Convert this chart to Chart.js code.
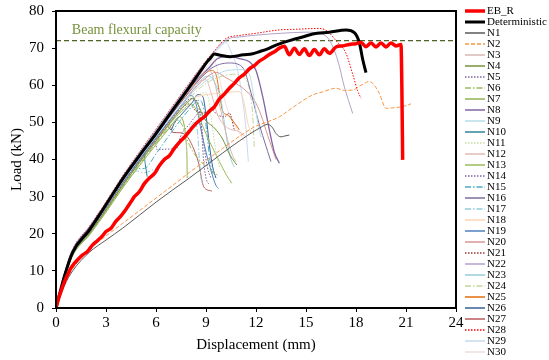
<!DOCTYPE html>
<html>
<head>
<meta charset="utf-8">
<script src="https://cdn.jsdelivr.net/npm/chart.js@4.4.0/dist/chart.umd.min.js"></script>
<style>
  html, body { margin: 0; padding: 0; background: #fff; }
</style>
</head>
<body>
<canvas id="myChart" width="549" height="360"></canvas>
<script>
// ---- data: [displacement (mm), load (kN)] ----
const EB_R = [[0,0],[0.15,2.5],[0.3,4.5],[0.5,7],[0.7,9],[0.9,10.8],[1.1,12],[1.3,13],[1.6,14.3],[1.9,15.3],[2.2,17],[2.5,18.2],[2.8,19.5],[3,20.6],[3.3,21.5],[3.6,23.4],[3.9,24.8],[4.2,26.6],[4.5,28.6],[4.7,30],[5,31.3],[5.3,33.5],[5.6,35],[5.9,36.2],[6.2,38.3],[6.5,40],[6.8,41],[7.1,43],[7.4,44.6],[7.7,46],[8,47.6],[8.3,49.2],[8.6,50.5],[8.9,51.5],[9.2,53],[9.5,54.2],[9.8,56.3],[10.1,57.6],[10.4,59.2],[10.7,60.5],[11,62],[11.3,63],[11.6,64.4],[11.9,65.3],[12.2,66.5],[12.5,67.3],[12.8,68.3],[13.1,69],[13.4,70],[13.7,70.5],[14,68.2],[14.3,70],[14.6,68.3],[14.9,69.8],[15.2,68],[15.5,69.6],[15.8,68.2],[16.1,69.8],[16.4,68.6],[16.8,70.3],[17.2,70.6],[17.6,71],[18,71.2],[18.3,71.5],[18.6,70.4],[18.9,71.4],[19.2,70.3],[19.5,71.4],[19.8,70.3],[20.1,71.4],[20.4,70.6],[20.7,71],[20.75,60],[20.8,39.9]];
const Deterministic = [[0,0],[0.5,8.5],[1,15],[2,21],[3,27.8],[4,34.8],[5,41],[6,47],[7,53.3],[8,59.5],[8.7,64],[9.1,66.5],[9.25,67.2],[9.5,68.4],[9.85,68.1],[10.45,67.7],[11.24,68.2],[11.8,68.5],[12.24,69.1],[12.7,69.8],[13.2,70.8],[13.7,71.6],[14.2,72.3],[14.8,73],[15.4,73.8],[16.4,74.3],[17.4,74.9],[17.9,74.2],[18.2,71.5],[18.4,67],[18.6,63.4]];
const N1 = [[0,0],[0.5,6],[1,10],[2,15],[3,18.3],[4,21.5],[5,25],[6,28.5],[7,31.8],[8,35],[9.45,39.9],[10.5,43.4],[11.5,46.5],[12.3,48.7],[12.7,49.5],[13,48.5],[13.2,47],[13.5,46.1],[13.7,46.3],[14,46.6]];
const N2 = [[0,0],[0.5,6.5],[1,10.6],[2,15.8],[3,19.4],[4,22.8],[5,26.2],[6,29.6],[7,33],[8,36.5],[9.06,39.9],[10,43],[11,46.2],[12,49],[12.6,50],[13.4,51.5],[14.2,54],[15.4,57.4],[16,58.2],[16.8,59.2],[17.3,58.6],[17.8,58.7],[18.3,60],[18.8,61],[19.1,60],[19.4,57.8],[19.8,53.8],[20.2,53.9],[20.6,54.1],[21,54.5],[21.3,55]];
const N3 = [[0,0],[0.5,8.6],[1,15.2],[2,21.2],[3,27.8],[4,34.6],[5,40.9],[6,46.9],[7,52.9],[8,58.8],[8.8,62.8],[9.2,64],[9.5,61],[9.8,55],[10.2,47],[10.6,41],[10.8,39.5]];
const N4 = [[0,0],[0.5,8],[1,14.4],[2,20],[3,26.4],[4,33],[5,39.2],[6,45],[7,50.8],[7.8,55],[8.2,56.5],[8.5,55],[8.9,51],[9.5,48.5],[10,45.5],[10.4,41.5],[10.85,38.5]];
const N5 = [[0,0],[0.5,8.2],[1,14.6],[2,20.3],[3,26.8],[4,33.4],[5,39.6],[6,45.5],[7,51.3],[7.6,54.5],[8.1,56.4],[8.5,55.5],[8.7,50],[8.9,43],[9.1,37.5],[9.3,35]];
const N6 = [[0,0],[0.5,8],[1,14.2],[2,19.8],[3,26],[4,32.6],[5,38.6],[6,44.4],[6.8,48.8],[7.3,50.6],[7.6,49],[7.9,45],[8.3,41.5],[8.8,39],[9.3,37],[9.8,35.5]];
const N7 = [[0,0],[0.5,8],[1,14.1],[2,19.6],[3,25.8],[4,32.3],[5,38.3],[6,44],[6.9,49],[7.4,51.5],[7.7,49],[7.82,44],[7.86,40],[7.87,35]];
const N8 = [[0,0],[0.5,8.9],[1,15.6],[2,21.6],[3,28.1],[4,35],[5,41.3],[6,47.3],[7,53.2],[8,59],[8.5,61.6],[9.2,64.8],[9.7,67.2],[10.4,67.8],[11,67.2],[11.6,66.3],[12,64],[12.4,57],[12.8,48],[13.1,42],[13.4,39]];
const N9 = [[0,0],[0.5,8.5],[1,15],[2,20.9],[3,27.3],[4,34.1],[5,40.3],[6,46.2],[7,51.9],[8,57.2],[8.8,60.5],[9.6,62.8],[10.3,64],[11.2,64.2],[11.6,63],[11.9,56],[12.1,50],[12.3,46]];
const N10 = [[0,0],[0.5,8.7],[1,15.2],[2,21.2],[3,27.7],[4,34.6],[4.6,38.5],[5,41],[5.24,42.6],[5.35,39],[5.47,35.4]];
const N11 = [[0,0],[0.5,8.1],[1,14.3],[2,20],[3,26.2],[4,32.8],[5,38.9],[6,44.7],[7,50.4],[8,55.5],[8.6,57.5],[9,58],[9.2,55],[9.4,48],[9.6,42],[9.8,38]];
const N12 = [[0,0],[0.5,8.7],[1,15.3],[2,21.3],[3,27.9],[4,34.8],[5,41.1],[6,47.1],[7,53],[8,58.6],[8.6,61],[9,61.5],[9.3,58],[9.7,52],[10.3,48.5],[11,47.5],[11.4,46]];
const N13 = [[0,0],[0.5,8.1],[1,14.4],[2,20.1],[3,26.3],[4,32.9],[5,39],[6,44.8],[7,50.5],[7.7,53.6],[8.1,55],[8.4,53.5],[8.8,49],[9.3,44],[9.8,39.5],[10.2,36],[10.55,33.6]];
const N14 = [[0,0],[0.5,8.2],[1,14.5],[2,20.2],[3,26.5],[4,33.1],[5,39.2],[5.6,42.5],[5.97,44.4],[6.07,42.6],[6.6,42.8],[7.26,43],[7.46,46.1],[8,49.5],[8.4,51.8],[8.66,53],[8.75,47],[8.85,40],[9,35],[9.2,33.2]];
const N15 = [[0,0],[0.5,8.6],[1,15],[2,21],[3,27.5],[4,34.4],[4.3,36.5],[4.7,38],[5.1,37.5],[5.4,37.8],[6,41.5],[7,47.8],[8,53.5],[8.6,56],[8.9,53],[9.1,45],[9.3,38],[9.5,35.5]];
const N16 = [[0,0],[0.5,8.6],[1,15.1],[2,21.1],[3,27.6],[4,34.4],[5,40.6],[6,46.6],[7,52.5],[8,58.2],[8.8,62.5],[9.3,64.5],[9.8,65.6],[10.4,66],[11,65.5],[11.3,64],[11.7,58],[12.1,51],[12.5,45],[12.9,39.4]];
const N17 = [[0,0],[0.5,8.4],[1,14.8],[2,20.6],[3,27],[3.6,31.5],[4.08,35.5],[4.5,36.8],[4.88,36.9],[5.27,36.4],[5.7,37],[6.27,38.5],[7,42],[7.8,47],[8.3,50],[8.5,47],[8.6,40],[8.7,35],[8.8,33.5]];
const N18 = [[0,0],[0.5,8.2],[1,14.5],[2,20.2],[3,26.6],[4,33.2],[5,39.3],[6,45.1],[7,50.9],[8,55.8],[9,57.5],[10,57.8],[10.6,58.2],[11,58.3],[11.3,55],[11.5,50],[11.7,47]];
const N19 = [[0,0],[0.5,8.4],[1,14.8],[2,20.6],[3,27],[4,33.7],[5,39.9],[6,45.8],[7,51.6],[7.7,55.5],[8.1,57.3],[8.4,55],[8.7,48],[9,42],[9.3,37],[9.6,33],[9.75,32.2]];
const N20 = [[0,0],[0.5,8.3],[1,14.7],[2,20.5],[3,26.9],[4,33.5],[5,39.7],[6,45.6],[7,51.4],[8,57.5],[9,62],[9.6,63.5],[10.2,62],[10.8,60.5],[11.4,58.5],[11.9,56],[12.3,52],[12.7,46.5],[13.2,40]];
const N21 = [[0,0],[0.5,8.3],[1,14.6],[2,20.4],[3,26.8],[4,33.4],[5,39.5],[6,45.3],[7,51],[7.6,54],[8,55],[8.4,53],[8.9,52.5],[9.3,53.5],[9.7,52],[10.1,51.5],[10.4,52.5],[10.7,48]];
const N22 = [[0,0],[0.5,9],[1,15.6],[2,21.8],[3,28.4],[4,35.4],[5,41.8],[6,48],[7,54.2],[8,60.4],[9,66.4],[10.3,72.4],[11,73],[12,73.5],[13.5,74],[15,74.3],[15.8,74],[16.4,72.2],[16.9,66.8],[17.3,59.6],[17.8,52.4]];
const N23 = [[0,0],[0.5,8.5],[1,14.9],[2,20.8],[3,27.2],[4,33.9],[5,40.1],[6,46],[7,51.8],[8,57.5],[8.8,61.8],[9.2,62.5],[9.6,60],[9.9,56],[10.1,50],[10.3,44],[10.5,40],[10.7,38]];
const N24 = [[0,0],[0.5,8.3],[1,14.6],[2,20.3],[3,26.7],[4,33.3],[5,39.4],[6,45.2],[7,51],[8,56.5],[9,60.5],[10,62.5],[10.8,63],[11.3,62],[11.6,59],[11.8,52],[11.9,43]];
const N25 = [[0,0],[0.5,8.6],[1,15.1],[2,21.1],[3,27.6],[4,34.5],[5,40.8],[6,46.8],[7,52.7],[8,58.5],[8.8,62.5],[9.3,64],[9.6,63],[9.8,58],[10,53],[10.3,52],[10.6,50.5],[11,48]];
const N26 = [[0,0],[0.5,8.5],[1,15],[2,20.9],[3,27.3],[4,34],[5,40.3],[6,46.3],[6.6,49.5],[6.9,48],[7.1,49.8],[7.6,52.5],[8.2,55.5],[8.5,57.5],[8.8,57],[9,52],[9.2,44],[9.4,38],[9.6,35]];
const N27 = [[0,0],[0.5,8.3],[1,14.7],[2,20.5],[3,26.9],[4,33.5],[5,39.6],[6,45.5],[6.5,48.5],[6.7,50],[6.9,48.6],[7,47.3],[7.5,47.2],[7.9,46],[8.2,43.5],[8.56,39],[8.86,32.7],[9.35,31.5]];
const N28 = [[0,0],[0.5,9.2],[1,15.8],[2,22],[3,28.6],[4,35.6],[5,42],[6,48.2],[7,54.4],[8,60.6],[9,66.6],[9.6,69.8],[10.2,72.6],[11,73.4],[12,74],[13.4,74.9],[14.5,75.1],[15.8,75.3],[16.3,74.5],[16.8,72],[17.4,68.6],[17.8,63],[18.1,58.5],[18.3,56.5]];
const N29 = [[0,0],[0.5,9],[1,15.6],[2,21.7],[3,28.3],[4,35.3],[5,41.6],[6,47.7],[7,53.8],[8,59.9],[9,65.7],[9.8,70],[10.2,71.5],[10.5,69],[10.9,64],[11.2,56],[11.4,48],[11.54,39.4]];
const N30 = [[0,0],[0.5,8.8],[1,15.4],[2,21.5],[3,28.1],[4,35],[5,41.3],[6,47.3],[7,53.3],[8,59.2],[8.8,63.5],[9.25,66],[9.45,67.2],[9.7,64],[10,58],[10.4,52],[10.9,48],[11.3,45]];

const beamCapacity = 72;   // kN
const xTicks = { min: 0, max: 24, step: 3 };
const yTicks = { min: 0, max: 80, step: 10 };

const seriesNames = ['EB_R', 'Deterministic', 'N1', 'N2', 'N3', 'N4', 'N5', 'N6', 'N7', 'N8', 'N9', 'N10',
  'N11', 'N12', 'N13', 'N14', 'N15', 'N16', 'N17', 'N18', 'N19', 'N20',
  'N21', 'N22', 'N23', 'N24', 'N25', 'N26', 'N27', 'N28', 'N29', 'N30'];
const seriesData = [EB_R, Deterministic, N1, N2, N3, N4, N5, N6, N7, N8, N9, N10,
  N11, N12, N13, N14, N15, N16, N17, N18, N19, N20,
  N21, N22, N23, N24, N25, N26, N27, N28, N29, N30];

// styles (colour, width, dash) in the same order
const DOT = [1.5, 1.5], DASH = [4, 2], DASHDOT = [6, 2, 1.5, 2];
const seriesStyles = [
  ['#ff0000', 3.5, []], ['#000000', 3, []],
  ['#595959', 1, []], ['#f79646', 1, DASH], ['#d8b6b4', 1, []], ['#77933c', 1, []],
  ['#8064a2', 1, DOT], ['#9bbb59', 1, DASHDOT], ['#92b050', 1, []], ['#8064a2', 1.3, []],
  ['#b7dee8', 1, []], ['#31859c', 1, []], ['#c9dba5', 1, DOT], ['#e6b9b8', 1, []],
  ['#9bbb59', 1, []], ['#8064a2', 1, DOT], ['#4bacc6', 1, DASHDOT], ['#7f6c9e', 1, []],
  ['#93cddd', 1, DASHDOT], ['#fcd5b5', 1, []], ['#4f81bd', 1, []], ['#d99694', 1, []],
  ['#953735', 1, DOT], ['#b3a2c7', 1, []], ['#93cddd', 1, []], ['#c3d69b', 1, DASHDOT],
  ['#e46c0a', 1, []], ['#376092', 1, []], ['#b65d5b', 1, []], ['#ff0000', 1, DOT],
  ['#c6d9f1', 1, []], ['#f2dcdb', 1, []]
];

const FONT = '"Liberation Serif", "Times New Roman", serif';

const datasets = seriesNames.map((name, i) => ({
  label: name,
  data: seriesData[i],
  borderColor: seriesStyles[i][0],
  borderWidth: seriesStyles[i][1],
  borderDash: seriesStyles[i][2],
  inLegend: true,
  showLine: true,
  pointRadius: 0,
  cubicInterpolationMode: 'monotone',
  fill: false
}));

// horizontal capacity line (drawn first, under everything)
datasets.push({
  label: 'Beam flexural capacity',
  data: [[xTicks.min, beamCapacity], [xTicks.max, beamCapacity]],
  borderColor: '#4f6228',
  borderWidth: 1.3,
  borderDash: [5, 3],
  inLegend: false,
  showLine: true,
  pointRadius: 0
});

// frame, capacity label and the side legend
const extras = {
  id: 'extras',
  afterDraw(chart) {
    const ctx = chart.ctx;
    const a = chart.chartArea;
    ctx.save();
    ctx.setLineDash([]);
    ctx.strokeStyle = '#000';
    ctx.lineWidth = 2;
    ctx.strokeRect(a.left, a.top, a.right - a.left, a.bottom - a.top);

    const xs = chart.scales.x, ys = chart.scales.y;
    ctx.font = '14px ' + FONT;
    ctx.fillStyle = '#76923c';
    ctx.textBaseline = 'middle';
    ctx.fillText('Beam flexural capacity', xs.getPixelForValue(0.95), ys.getPixelForValue(74.9));

    ctx.font = '11px ' + FONT;
    let row = 0;
    chart.data.datasets.forEach(ds => {
      if (!ds.inLegend) return;
      const y = 11 + row * 11;
      ctx.beginPath();
      ctx.setLineDash(ds.borderDash || []);
      ctx.lineWidth = Math.max(1.5, ds.borderWidth);
      ctx.strokeStyle = ds.borderColor;
      ctx.moveTo(a.right + 9, y);
      ctx.lineTo(a.right + 29, y);
      ctx.stroke();
      ctx.setLineDash([]);
      ctx.fillStyle = '#000';
      ctx.fillText(ds.label, a.right + 31, y + 0.5);
      row++;
    });
    ctx.restore();
  }
};

const ctx = document.getElementById('myChart').getContext('2d');
const myChart = new Chart(ctx, {
  type: 'scatter',
  data: { datasets: datasets },
  options: {
    responsive: false,
    animation: false,
    layout: { padding: { left: 0, right: 93, top: 0, bottom: 0 } },
    scales: {
      x: {
        type: 'linear',
        min: xTicks.min, max: xTicks.max,
        afterFit: (scale) => { scale.height = 52; },
        grid: { drawOnChartArea: false, drawTicks: true, tickLength: 4, color: '#000' },
        border: { display: false },
        ticks: { stepSize: xTicks.step, color: '#000', padding: 2, font: { family: FONT, size: 15 } },
        title: { display: true, text: 'Displacement (mm)', color: '#000', padding: { top: 0, bottom: 6 }, font: { family: FONT, size: 15 } }
      },
      y: {
        min: yTicks.min, max: yTicks.max,
        afterFit: (scale) => { scale.width = 56; },
        grid: { drawOnChartArea: false, drawTicks: true, tickLength: 4, color: '#000' },
        border: { display: false },
        ticks: { stepSize: yTicks.step, color: '#000', padding: 8, font: { family: FONT, size: 15, lineHeight: 0.4 } },
        title: { display: true, text: 'Load (kN)', color: '#000', padding: { top: 8, bottom: 0 }, font: { family: FONT, size: 15 } }
      }
    },
    plugins: {
      legend: { display: false },
      tooltip: { enabled: false }
    }
  },
  plugins: [extras]
});
</script>
</body>
</html>
